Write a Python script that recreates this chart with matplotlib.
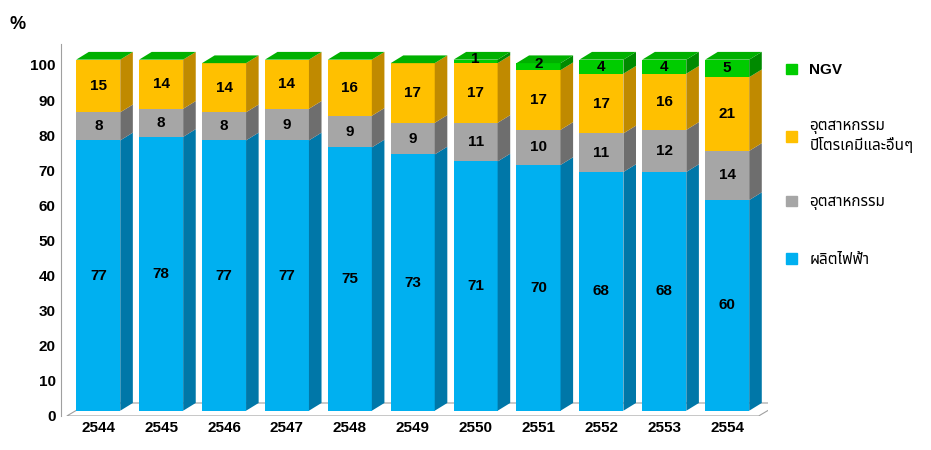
import matplotlib.pyplot as plt
import matplotlib.font_manager as fm
from matplotlib.patches import Polygon, Patch
import numpy as np

years = ['2544', '2545', '2546', '2547', '2548', '2549', '2550', '2551', '2552', '2553', '2554']
power = [77, 78, 77, 77, 75, 73, 71, 70, 68, 68, 60]
industry = [8, 8, 8, 9, 9, 9, 11, 10, 11, 12, 14]
petro = [15, 14, 14, 14, 16, 17, 17, 17, 17, 16, 21]
ngv = [0, 0, 0, 0, 0, 0, 1, 2, 4, 4, 5]
names = ['ผลิตไฟฟ้า', 'อุตสาหกรรม', 'อุตสาหกรรม\nปิโตรเคมีและอื่นๆ', 'NGV']

front = ['#00B0F0', '#A6A6A6', '#FFC000', '#00CC00']
side = ['#0077A8', '#6E6E6E', '#C08A00', '#008A00']
top_green = '#00B000'

avail = {f.name for f in fm.fontManager.ttflist}
fams = [f for f in ['Noto Sans Thai', 'Noto Sans Thai UI', 'Loma', 'Garuda'] if f in avail]
plt.rcParams['font.family'] = ['Liberation Sans'] + fams + ['DejaVu Sans']

fig = plt.figure(figsize=(9.31, 4.5), dpi=100)
ax = fig.add_axes([0.065, 0.0756, 0.76, 0.827])

w = 0.7
dx, dy = 0.2, 2.2
base = 1.5
x = np.arange(len(years))
series = [power, industry, petro, ngv]

# floor
ax.add_patch(Polygon([(-0.5, 0), (len(years) - 0.5, 0), (len(years) - 0.5 + dx + 0.15, dy + 1.5), (-0.5 + dx + 0.15, dy + 1.5)],
                     closed=True, facecolor='white', edgecolor='#A0A0A0', lw=0.8, zorder=0))

for i in range(len(years)):
    b = base
    x0, x1 = x[i] - w / 2, x[i] + w / 2
    for k in range(4):
        v = series[k][i]
        if v == 0:
            continue
        ax.bar(x[i], v, w, bottom=b, color=front[k], zorder=2)
        ax.add_patch(Polygon([(x1, b), (x1 + dx, b + dy), (x1 + dx, b + v + dy), (x1, b + v)],
                             closed=True, facecolor=side[k], edgecolor='none', zorder=2))
        ax.text(x[i], b + v / 2 + (0.8 if v < 3 else 0), str(v), ha='center', va='center',
                fontsize=11, fontweight='bold', zorder=3)
        b += v
    ax.add_patch(Polygon([(x0, b), (x1, b), (x1 + dx, b + dy), (x0 + dx, b + dy)],
                         closed=True, facecolor=top_green, edgecolor='none', zorder=2))

ax.set_xlim(-0.6, len(years) - 0.35)
ax.set_ylim(0, 106)
ax.set_yticks(range(0, 101, 10))
ax.set_xticks(x)
ax.set_xticklabels(years)
for s in ['top', 'right', 'bottom']:
    ax.spines[s].set_visible(False)
ax.spines['left'].set_color('#A0A0A0')
ax.tick_params(axis='both', length=0, labelsize=11)
for t in ax.get_xticklabels() + ax.get_yticklabels():
    t.set_fontweight('bold')
ax.text(-0.05, 1.04, '%', transform=ax.transAxes, fontsize=13, fontweight='bold', ha='right')

handles = [Patch(color=front[k]) for k in [3, 2, 1, 0]]
fig.legend(handles, [names[k] for k in [3, 2, 1, 0]], loc='upper left', bbox_to_anchor=(0.83, 0.89),
           frameon=False, prop={'size': 11, 'weight': 'bold'}, handlelength=0.7, handleheight=0.7,
           labelspacing=2.8)

fig.savefig('out.png')
